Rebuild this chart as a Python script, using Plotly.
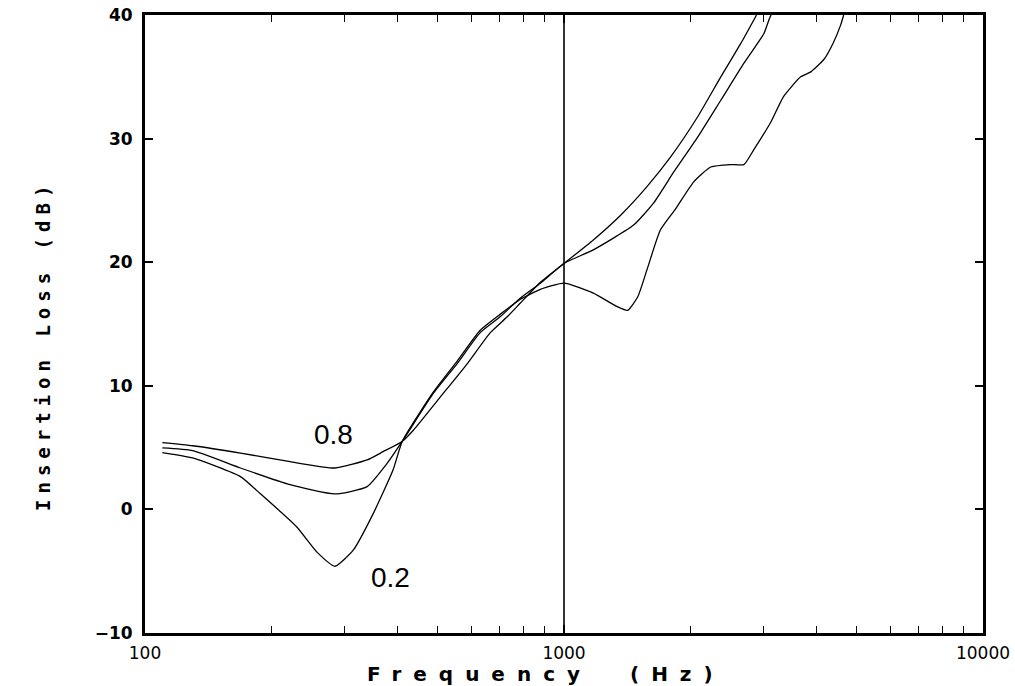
import math
import plotly.graph_objects as go

# Insertion loss curves for three parameter values (0.8, intermediate, 0.2)
freq_08 = [110, 130, 169, 222, 284, 339, 370, 411, 437, 507, 588, 667, 733,
           787, 880, 1000, 1175, 1365, 1585, 1795, 2083, 2367, 2642, 2838, 2880]
loss_08 = [5.4, 5.15, 4.56, 3.86, 3.35, 4.0, 4.67, 5.5, 6.4, 9.1, 11.8, 14.3,
           15.6, 16.7, 18.4, 19.9, 21.8, 23.8, 26.2, 28.5, 31.75, 35.0, 37.7,
           39.6, 40.0]

freq_mid = [110, 130, 169, 222, 284, 339, 376, 411, 488, 556, 631, 705, 787,
            878, 1000, 1175, 1466, 1637, 1828, 2083, 2367, 2688, 3000, 3083, 3120]
loss_mid = [4.97, 4.75, 3.35, 2.0, 1.25, 1.84, 3.6, 5.5, 9.4, 11.8, 14.3, 15.6,
            17.1, 18.3, 19.9, 21.0, 23.0, 24.8, 27.3, 30.1, 33.1, 36.1, 38.5,
            39.6, 40.0]

freq_02 = [110, 130, 169, 188, 230, 258, 284, 314, 351, 391, 411, 488, 556,
           631, 705, 787, 878, 1000, 1175, 1340, 1419, 1500, 1585, 1698, 1845,
           2040, 2240, 2500, 2688, 2838, 3112, 3341, 3672, 3882, 4170, 4385,
           4575, 4650]
loss_02 = [4.6, 4.16, 2.65, 1.3, -1.4, -3.5, -4.6, -3.3, -0.3, 3.2, 5.5, 9.5,
           12.0, 14.5, 15.8, 17.0, 17.8, 18.3, 17.5, 16.4, 16.1, 17.2, 19.6,
           22.6, 24.3, 26.5, 27.7, 27.9, 27.9, 29.1, 31.3, 33.4, 35.0, 35.4,
           36.4, 37.7, 39.2, 40.0]

x_major = [100, 1000, 10000]
x_minor = [200, 300, 400, 500, 600, 700, 800, 900,
           2000, 3000, 4000, 5000, 6000, 7000, 8000, 9000]
y_ticks = [-10, 0, 10, 20, 30, 40]

# curve labels: text, frequency (Hz), loss (dB)
curve_labels = [("0.8", 281, 6.1), ("0.2", 385, -5.5)]

fig = go.Figure()
for fx, fy in [(freq_08, loss_08), (freq_mid, loss_mid), (freq_02, loss_02)]:
    fig.add_trace(go.Scatter(
        x=fx, y=fy, mode="lines",
        line=dict(color="black", width=1.3, shape="spline", smoothing=0.5),
        hoverinfo="skip", showlegend=False,
    ))

# reference line at 1 kHz
fig.add_shape(type="line", xref="x", yref="paper", x0=1000, x1=1000, y0=0, y1=1,
              line=dict(color="black", width=1.6))

for text, fx, fy in curve_labels:
    # annotation positions on a log axis are given in log10 units
    fig.add_annotation(x=math.log10(fx), y=fy, xref="x", yref="y", text=text,
                       showarrow=False,
                       font=dict(family="Liberation Sans", size=28, color="black"))

fig.add_annotation(x=0.478, y=-0.089, xref="paper", yref="paper",
                   text="Frequency  (Hz)", showarrow=False, yanchor="bottom",
                   font=dict(family="DejaVu Sans", size=20, color="black", weight="bold"))
fig.add_annotation(x=-0.138, y=0.465, xref="paper", yref="paper",
                   text="Insertion Loss (dB)", showarrow=False, textangle=-90,
                   font=dict(family="DejaVu Sans Mono", size=19, color="black", weight="bold"))

fig.update_xaxes(
    type="log", range=[2, 4], automargin=False,
    tickvals=x_major, ticktext=[str(v) for v in x_major],
    ticks="inside", ticklen=8, tickwidth=1.5, tickcolor="black",
    minor=dict(tickvals=x_minor, ticks="inside", ticklen=7, tickwidth=1.3,
               tickcolor="black", showgrid=False),
    showline=True, linewidth=3, linecolor="black", mirror="ticks",
    showgrid=False, zeroline=False, ticklabelstandoff=3,
    tickfont=dict(family="DejaVu Sans", size=17, color="black"),
)
fig.update_yaxes(
    range=[-10, 40], tickvals=y_ticks, automargin=False,
    ticks="inside", ticklen=8, tickwidth=1.5, tickcolor="black",
    showline=True, linewidth=3, linecolor="black", mirror="ticks",
    showgrid=False, zeroline=False, ticklabelstandoff=6,
    tickfont=dict(family="DejaVu Sans", size=17, color="black", weight="bold"),
)

fig.update_layout(
    width=1015, height=686,
    margin=dict(l=145, r=32, t=15, b=53),
    paper_bgcolor="white", plot_bgcolor="white",
    font=dict(family="DejaVu Sans", color="black"),
)

spacing_js = """
document.querySelectorAll('.annotation-text').forEach(function(t){
  if (t.textContent.indexOf('Frequency') === 0) { t.style.letterSpacing = '12px'; }
  if (t.textContent.indexOf('Insertion') === 0) { t.style.letterSpacing = '6px'; }
});
"""
fig.write_html("out.html", post_script=spacing_js)
